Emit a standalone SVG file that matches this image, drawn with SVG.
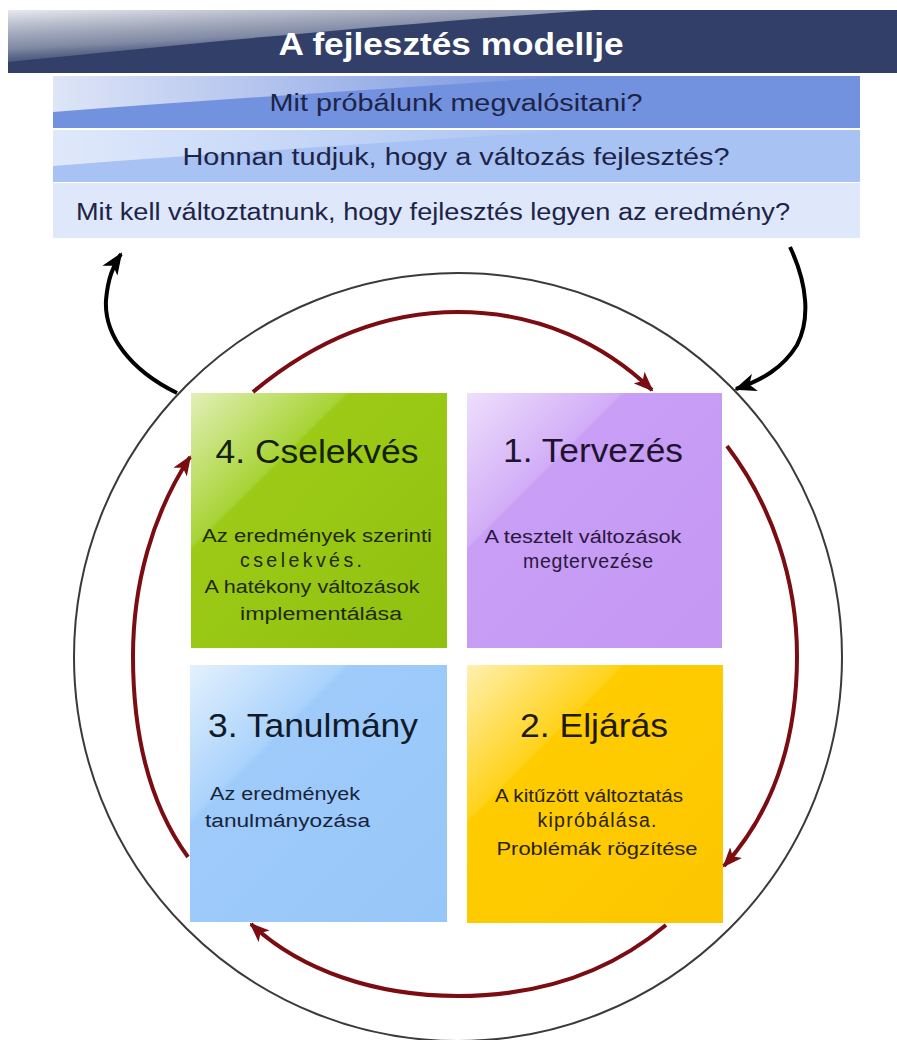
<svg xmlns="http://www.w3.org/2000/svg" width="897" height="1040" viewBox="0 0 897 1040">
  <style>
    .title { font-family: "Liberation Sans", Arial, sans-serif; font-weight: bold; font-size: 32px; fill: #ffffff; }
    .row { font-family: "Liberation Sans", Arial, sans-serif; font-size: 23px; fill: #1c2447; }
    .head { font-family: "Liberation Sans", Arial, sans-serif; font-size: 33px; }
    .body { font-family: "Liberation Sans", Arial, sans-serif; font-size: 18px; }
    .spaced { font-size: 19.5px; }
    .cycle { fill: none; stroke: #7a0c12; stroke-width: 4; marker-end: url(#ah-red); }
    .loop { fill: none; stroke: #000000; stroke-width: 4; marker-end: url(#ah-black); }
  </style>
  <defs>
    <linearGradient id="gloss" x1="0" y1="0" x2="1" y2="0">
      <stop offset="0" stop-color="#ffffff" stop-opacity="0.85"/>
      <stop offset="1" stop-color="#ffffff" stop-opacity="0"/>
    </linearGradient>
    <linearGradient id="gloss-bar" x1="0" y1="0" x2="0.6" y2="1">
      <stop offset="0" stop-color="#f2f3f6" stop-opacity="0.95"/>
      <stop offset="0.55" stop-color="#b6bccb" stop-opacity="0.6"/>
      <stop offset="1" stop-color="#313f69" stop-opacity="0"/>
    </linearGradient>
    <linearGradient id="g-green" x1="0" y1="0" x2="1" y2="1">
      <stop offset="0" stop-color="#e2f0b8"/>
      <stop offset="0.3" stop-color="#a8d336"/>
      <stop offset="0.31" stop-color="#9cca16"/>
      <stop offset="1" stop-color="#90c010"/>
    </linearGradient>
    <linearGradient id="g-purple" x1="0" y1="0" x2="1" y2="1">
      <stop offset="0" stop-color="#eedffc"/>
      <stop offset="0.3" stop-color="#d1adf7"/>
      <stop offset="0.31" stop-color="#c99ef6"/>
      <stop offset="1" stop-color="#c498f3"/>
    </linearGradient>
    <linearGradient id="g-blue" x1="0" y1="0" x2="1" y2="1">
      <stop offset="0" stop-color="#e4f1fe"/>
      <stop offset="0.3" stop-color="#a9d2fb"/>
      <stop offset="0.31" stop-color="#9ecbfa"/>
      <stop offset="1" stop-color="#97c6f8"/>
    </linearGradient>
    <linearGradient id="g-yellow" x1="0" y1="0" x2="1" y2="1">
      <stop offset="0" stop-color="#fff0b0"/>
      <stop offset="0.3" stop-color="#ffd21a"/>
      <stop offset="0.31" stop-color="#ffcc00"/>
      <stop offset="1" stop-color="#fcc600"/>
    </linearGradient>
    <marker id="ah-red" viewBox="0 0 20 16" refX="18" refY="8" markerWidth="20" markerHeight="16" orient="auto" markerUnits="userSpaceOnUse">
      <path d="M0,0 L20,8 L0,16 L5,8 Z" fill="#7a0c12"/>
    </marker>
    <marker id="ah-black" viewBox="0 0 22 18" refX="20" refY="9" markerWidth="22" markerHeight="18" orient="auto" markerUnits="userSpaceOnUse">
      <path d="M0,0 L22,9 L0,18 L6,9 Z" fill="#000000"/>
    </marker>
  </defs>

  <rect width="897" height="1040" fill="#ffffff"/>

  <!-- header block: title bar and three question rows -->
  <g id="header">
    <rect x="8" y="10" width="889" height="63" fill="#313f69"/>
    <path d="M8,10 L595,10 C 420,22 220,40 8,62 Z" fill="url(#gloss-bar)"/>
    <text class="title" x="451" y="55" text-anchor="middle" textLength="345" lengthAdjust="spacingAndGlyphs">A fejlesztés modellje</text>
  </g>
  <g id="row1">
    <rect x="53" y="76" width="807" height="52" fill="#7291de"/>
    <path d="M53,76 L580,76 C 420,86 240,98 53,112 Z" fill="url(#gloss)" opacity="0.9"/>
    <text class="row" x="456" y="111" text-anchor="middle" textLength="373" lengthAdjust="spacingAndGlyphs">Mit próbálunk megvalósitani?</text>
  </g>
  <g id="row2">
    <rect x="53" y="130" width="807" height="52" fill="#a8c2f3"/>
    <path d="M53,130 L580,130 C 420,140 240,152 53,166 Z" fill="url(#gloss)" opacity="0.75"/>
    <text class="row" x="456" y="165" text-anchor="middle" textLength="547" lengthAdjust="spacingAndGlyphs">Honnan tudjuk, hogy a változás fejlesztés?</text>
  </g>
  <g id="row3">
    <rect x="53" y="183" width="807" height="55" fill="#dfe7fb"/>
    <text class="row" x="433" y="220" text-anchor="middle" textLength="714" lengthAdjust="spacingAndGlyphs">Mit kell változtatnunk, hogy fejlesztés legyen az eredmény?</text>
  </g>

  <!-- enclosing ring -->
  <circle id="ring" cx="458" cy="657" r="384" fill="none" stroke="#3a3a3a" stroke-width="2"/>

  <!-- four phases -->
  <g id="act">
    <rect x="191" y="393" width="256" height="255" fill="url(#g-green)"/>
    <text class="head" x="317" y="463" text-anchor="middle" fill="#14200a" textLength="203" lengthAdjust="spacingAndGlyphs">4. Cselekvés</text>
    <g class="body" fill="#1e2a08" text-anchor="middle">
      <text x="317" y="542" textLength="230" lengthAdjust="spacingAndGlyphs">Az eredmények szerinti</text>
      <text class="spaced" x="301" y="567" textLength="122" lengthAdjust="spacing">cselekvés.</text>
      <text x="312" y="593" textLength="215" lengthAdjust="spacingAndGlyphs">A hatékony változások</text>
      <text x="321" y="620" textLength="162" lengthAdjust="spacingAndGlyphs">implementálása</text>
    </g>
  </g>
  <g id="plan">
    <rect x="467" y="393" width="255" height="255" fill="url(#g-purple)"/>
    <text class="head" x="593" y="462" text-anchor="middle" fill="#1e1430" textLength="180" lengthAdjust="spacingAndGlyphs">1. Tervezés</text>
    <g class="body" fill="#2a1840" text-anchor="middle">
      <text x="583" y="543" textLength="197" lengthAdjust="spacingAndGlyphs">A tesztelt változások</text>
      <text class="spaced" x="588" y="568" textLength="130" lengthAdjust="spacing">megtervezése</text>
    </g>
  </g>
  <g id="study">
    <rect x="190" y="665" width="257" height="257" fill="url(#g-blue)"/>
    <text class="head" x="208" y="737" fill="#121a28" textLength="210" lengthAdjust="spacingAndGlyphs">3. Tanulmány</text>
    <g class="body" fill="#18243a">
      <text x="210" y="800" textLength="150" lengthAdjust="spacingAndGlyphs">Az eredmények</text>
      <text x="205" y="827" textLength="165" lengthAdjust="spacingAndGlyphs">tanulmányozása</text>
    </g>
  </g>
  <g id="do">
    <rect x="467" y="665" width="256" height="258" fill="url(#g-yellow)"/>
    <text class="head" x="594" y="737" text-anchor="middle" fill="#1e1a08" textLength="148" lengthAdjust="spacingAndGlyphs">2. Eljárás</text>
    <g class="body" fill="#2a2408" text-anchor="middle">
      <text x="589" y="802" textLength="188" lengthAdjust="spacingAndGlyphs">A kitűzött változtatás</text>
      <text class="spaced" x="597" y="827" textLength="119" lengthAdjust="spacing">kipróbálása.</text>
      <text x="597" y="855" textLength="201" lengthAdjust="spacingAndGlyphs">Problémák rögzítése</text>
    </g>
  </g>

  <!-- connectors: the red cycle and the two feedback loops -->
  <g id="connectors">
    <path class="cycle" d="M253,392 C 320,336 390,312 458,312 C 540,312 605,345 652,390"/>
    <path class="cycle" d="M727,446 C 772,505 797,580 797,656 C 797,745 770,815 724,866"/>
    <path class="cycle" d="M666,925 C 610,972 540,996 458,996 C 375,996 300,970 251,924"/>
    <path class="cycle" d="M188,857 C 150,805 133,735 133,656 C 133,585 152,515 190,457"/>
    <path class="loop" d="M177,393 C 130,370 104,335 106,300 C 108,278 113,266 121,254"/>
    <path class="loop" d="M790,247 C 808,285 810,320 797,345 C 783,368 762,380 736,389"/>
  </g>
</svg>
